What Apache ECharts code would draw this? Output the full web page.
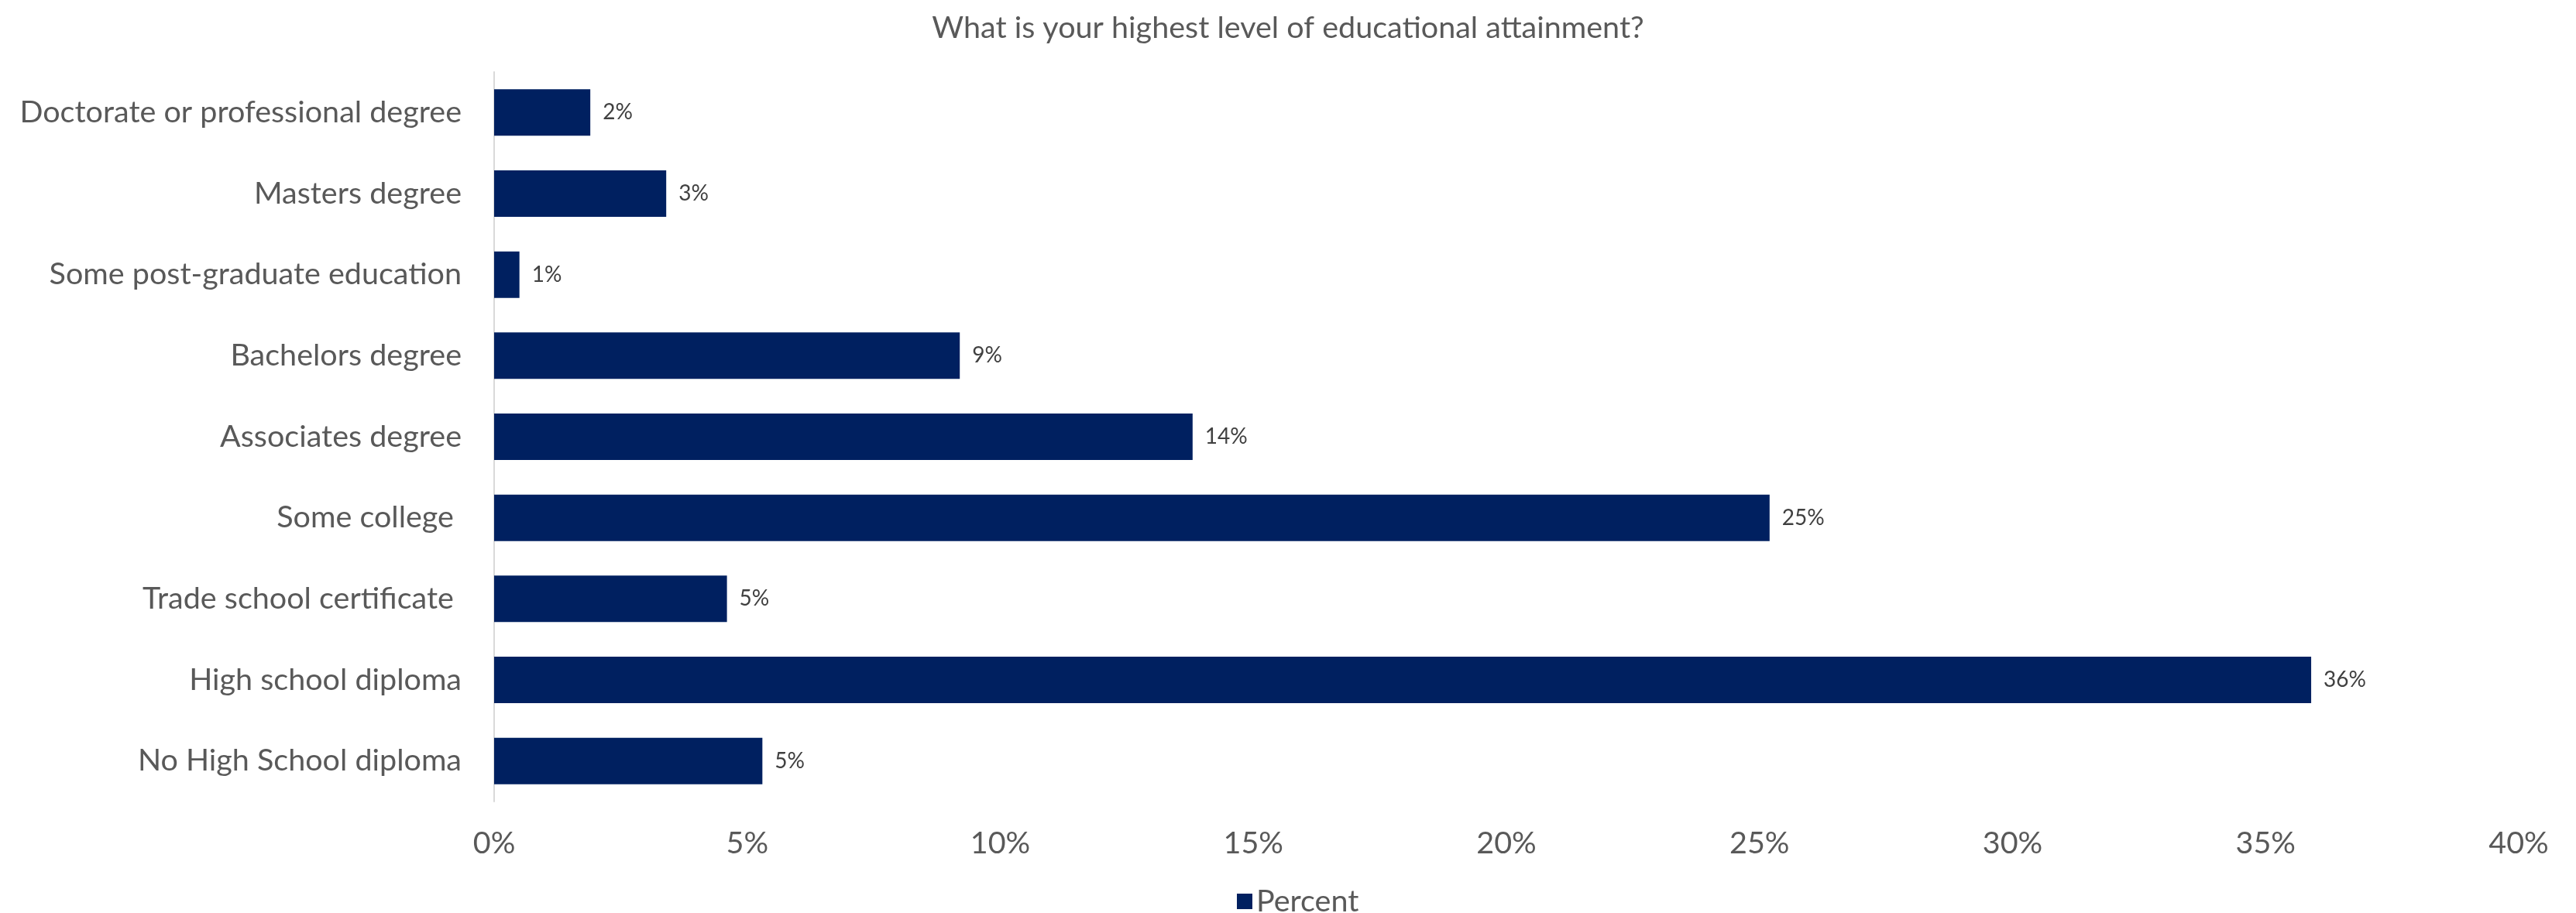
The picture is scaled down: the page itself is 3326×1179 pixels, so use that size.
<!DOCTYPE html>
<html>
<head>
<meta charset="utf-8">
<script src="https://cdn.jsdelivr.net/npm/echarts@6/dist/echarts.min.js"></script>
<style>html,body{margin:0;padding:0;background:#fff}#c{width:3326px;height:1179px}</style>
</head>
<body>
<div id="c"></div>
<script>
const title = "What is your highest level of educational attainment?";
const categories = [
  "Doctorate or professional degree",
  "Masters degree",
  "Some post-graduate education",
  "Bachelors degree",
  "Associates degree",
  "Some college ",
  "Trade school certificate ",
  "High school diploma",
  "No High School diploma"
];
const percentValues = [1.9, 3.4, 0.5, 9.2, 13.8, 25.2, 4.6, 35.9, 5.3];
const seriesName = "Percent";
const xTickMin = 0, xTickMax = 40, xTickStep = 5;

const FONT = "Lato";
const chart = echarts.init(document.getElementById('c'), null, {renderer: 'canvas'});
chart.setOption({
  animation: false,
  backgroundColor: '#ffffff',
  title: {
    text: title, left: 'center', top: 11,
    textStyle: {fontFamily: FONT, fontSize: 39.5, fontWeight: 'normal', color: '#595959'}
  },
  legend: {
    data: [seriesName], left: 1592, top: 1139,
    icon: 'rect', itemWidth: 20, itemHeight: 20, itemGap: 8,
    textStyle: {fontFamily: FONT, fontSize: 39.5, color: '#595959'}
  },
  grid: {left: 638, right: 74, top: 93, bottom: 144, containLabel: false},
  xAxis: {
    type: 'value', min: xTickMin, max: xTickMax, interval: xTickStep,
    axisLine: {show: false}, axisTick: {show: false}, splitLine: {show: false},
    axisLabel: {formatter: v => v + '%', fontFamily: FONT, fontSize: 39.5, color: '#595959', margin: 34}
  },
  yAxis: {
    type: 'category', data: categories, inverse: true,
    axisLine: {show: true, lineStyle: {color: '#d9d9d9', width: 2}},
    axisTick: {show: false},
    axisLabel: {fontFamily: FONT, fontSize: 39.5, color: '#595959', margin: 42}
  },
  series: [{
    name: seriesName, type: 'bar', data: percentValues, barWidth: 60,
    itemStyle: {color: '#002060'},
    label: {
      show: true, position: 'right', distance: 16,
      formatter: p => Math.round(p.value) + '%',
      fontFamily: FONT, fontSize: 28, color: '#404040'
    }
  }]
});
</script>
</body>
</html>
